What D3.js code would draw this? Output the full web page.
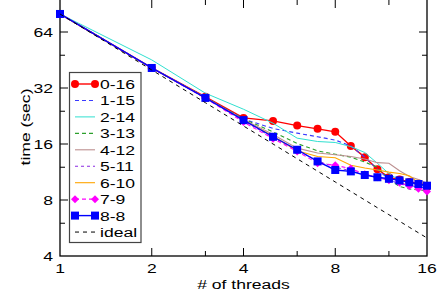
<!DOCTYPE html>
<html>
<head>
<meta charset="utf-8">
<script src="https://cdn.jsdelivr.net/npm/d3@7"></script>
<style>
  html, body { margin: 0; padding: 0; background: #fff; }
  svg { display: block; }
  text { font-family: "Liberation Sans", Arial, sans-serif; fill: #000; }
</style>
</head>
<body>
<svg id="chart" width="439" height="300"></svg>
<script>
// ---------- data ----------
const threads = [1, 2, 3, 4, 5, 6, 7, 8, 9, 10, 11, 12, 13, 14, 15, 16];
const s0_16 = [80, 41, 28.7, 22.1, 21.3, 20.1, 19.3, 18.6, 15.6, 13.6, 11.7, 10.6, 10.3, 10.0, 9.8, 9.4];
const s1_15 = [80, 41, 28.5, 21.8, 19.4, 18.3, 17.5, 16.8, 15.6, 13.6, 11.7, 10.3, 9.75, 9.55, 9.4, 9.25];
const s2_14 = [80, 45.3, 30.0, 24.6, 20.7, 17.2, 16.5, 16.3, 15.5, 14.4, 12.6, 11.1, 10.2, 9.9, 9.7, 9.4];
const s3_13 = [80, 41, 28.5, 21.8, 18.6, 16.1, 14.7, 14.1, 13.6, 12.8, 12.0, 10.4, 9.45, 9.17, 9.06, 8.95];
const s4_12 = [80, 41, 28.4, 21.7, 18.0, 15.2, 14.3, 14.0, 13.7, 13.3, 12.7, 12.6, 11.5, 10.7, 10.3, 9.84];
const s5_11 = [80, 41, 28.3, 21.3, 17.3, 14.8, 13.0, 12.0, 11.5, 11.0, 10.6, 10.2, 9.9, 9.6, 9.3, 9.1];
const s6_10 = [80, 41, 28.4, 21.5, 17.6, 14.7, 13.7, 13.5, 12.3, 11.9, 11.6, 11.3, 11.1, 10.8, 9.9, 9.6];
const s7_9  = [80, 41, 28.2, 21.0, 17.1, 14.6, 12.6, 12.3, 11.8, 11.0, 10.6, 10.2, 9.9, 9.5, 9.2, 8.9];
const s8_8  = [80, 41, 28.3, 21.5, 17.5, 14.9, 12.9, 11.6, 11.4, 10.9, 10.6, 10.4, 10.2, 9.96, 9.75, 9.55];
const ideal = [80, 40, 26.67, 20, 16, 13.33, 11.43, 10, 8.89, 8, 7.27, 6.67, 6.15, 5.71, 5.33, 5];

const xMajor = [1, 2, 4, 8, 16];
const xMinor = [3, 6, 12];
const yMajor = [4, 8, 16, 32, 64];
const yMinor = [6, 12, 24, 48];

const seriesNames = ["0-16", "1-15", "2-14", "3-13", "4-12", "5-11", "6-10", "7-9", "8-8", "ideal"];
const seriesData = [s0_16, s1_15, s2_14, s3_13, s4_12, s5_11, s6_10, s7_9, s8_8, ideal];
const seriesStyle = [
  {color: "#ff0000", width: 1.4, dash: null, marker: "circle"},
  {color: "#3a3aff", width: 1.1, dash: "4,3", marker: null},
  {color: "#30e0d0", width: 1.0, dash: null, marker: null},
  {color: "#2ca02c", width: 1.1, dash: "4,3", marker: null},
  {color: "#bc8f8f", width: 1.1, dash: null, marker: null},
  {color: "#8a2be2", width: 1.0, dash: "3,3", marker: null},
  {color: "#ffa500", width: 1.1, dash: null, marker: null},
  {color: "#ff00ff", width: 1.1, dash: "4,3", marker: "diamond"},
  {color: "#0000ff", width: 1.4, dash: null, marker: "square"},
  {color: "#000000", width: 1.0, dash: "4,4", marker: null}
];

// ---------- layout ----------
const svg = d3.select("#chart");
const SX = 1.3; // wide lettering of the original figure
const plotLeft = 60, plotRight = 427, plotBottom = 256;

const x = d3.scaleLog().base(2).domain([1, 16]).range([plotLeft, plotRight]);
const y = d3.scaleLog().base(2).domain([4, 64]).range([plotBottom, 32]);

function stretchedText(g, txt, tx, ty, anchor, rot) {
  return g.append("text")
    .attr("transform", `translate(${tx},${ty})` + (rot ? ` rotate(${rot})` : "") + ` scale(${SX},1)`)
    .attr("text-anchor", anchor)
    .attr("font-size", 13.5)
    .text(txt);
}

// frame
svg.append("rect")
  .attr("x", plotLeft).attr("y", -1)
  .attr("width", plotRight - plotLeft).attr("height", plotBottom + 1)
  .attr("fill", "none").attr("stroke", "#000").attr("stroke-width", 1.3);

// ticks (inward, mirrored)
const tickG = svg.append("g").attr("stroke", "#000").attr("stroke-width", 1);
function xTicks(vals, len) {
  vals.forEach(v => {
    tickG.append("line").attr("x1", x(v)).attr("x2", x(v)).attr("y1", plotBottom).attr("y2", plotBottom - len);
    tickG.append("line").attr("x1", x(v)).attr("x2", x(v)).attr("y1", 0).attr("y2", len);
  });
}
function yTicks(vals, len) {
  vals.forEach(v => {
    tickG.append("line").attr("y1", y(v)).attr("y2", y(v)).attr("x1", plotLeft).attr("x2", plotLeft + len);
    tickG.append("line").attr("y1", y(v)).attr("y2", y(v)).attr("x1", plotRight).attr("x2", plotRight - len);
  });
}
xTicks(xMajor.slice(1, -1), 8); xTicks(xMinor, 5);
yTicks(yMajor.slice(1), 8); yTicks(yMinor, 5);

// tick labels
const labG = svg.append("g");
xMajor.forEach(v => stretchedText(labG, String(v), x(v), 273, "middle"));
yMajor.forEach(v => stretchedText(labG, String(v), 53, y(v) + 5, "end"));

// axis titles
stretchedText(svg, "# of threads", (plotLeft + plotRight) / 2, 289, "middle");
stretchedText(svg, "time (sec)", 30, 127, "middle", -90);

// ---------- series ----------
const plot = svg.append("g");
const line = d3.line().x(d => x(d[0])).y(d => y(d[1]));

function drawMarker(g, type, cx, cy, color) {
  if (type === "circle") {
    g.append("circle").attr("cx", cx).attr("cy", cy).attr("r", 4).attr("fill", color);
  } else if (type === "square") {
    g.append("rect").attr("x", cx - 4).attr("y", cy - 4).attr("width", 8).attr("height", 8).attr("fill", color);
  } else if (type === "diamond") {
    g.append("path").attr("d", `M${cx},${cy - 4}L${cx + 4},${cy}L${cx},${cy + 4}L${cx - 4},${cy}Z`).attr("fill", color);
  }
}

seriesData.forEach((vals, i) => {
  const st = seriesStyle[i];
  const pts = threads.map((t, k) => [t, vals[k]]);
  const g = plot.append("g");
  g.append("path").attr("d", line(pts))
    .attr("fill", "none").attr("stroke", st.color).attr("stroke-width", st.width)
    .attr("stroke-dasharray", st.dash);
  if (st.marker) pts.forEach(p => drawMarker(g, st.marker, x(p[0]), y(p[1]), st.color));
});

// ---------- legend ----------
const leg = svg.append("g");
leg.append("rect").attr("x", 69.5).attr("y", 72.5).attr("width", 71.5).attr("height", 170)
  .attr("fill", "#fff").attr("stroke", "#444").attr("stroke-width", 1.2);
seriesNames.forEach((name, i) => {
  const st = seriesStyle[i];
  const ly = 84 + i * 16.45;
  leg.append("line").attr("x1", 75).attr("x2", 95).attr("y1", ly).attr("y2", ly)
    .attr("stroke", st.color).attr("stroke-width", st.width).attr("stroke-dasharray", st.dash);
  if (st.marker) { drawMarker(leg, st.marker, 75, ly, st.color); drawMarker(leg, st.marker, 95, ly, st.color); }
  stretchedText(leg, name, 100, ly + 5, "start");
});
</script>
</body>
</html>
